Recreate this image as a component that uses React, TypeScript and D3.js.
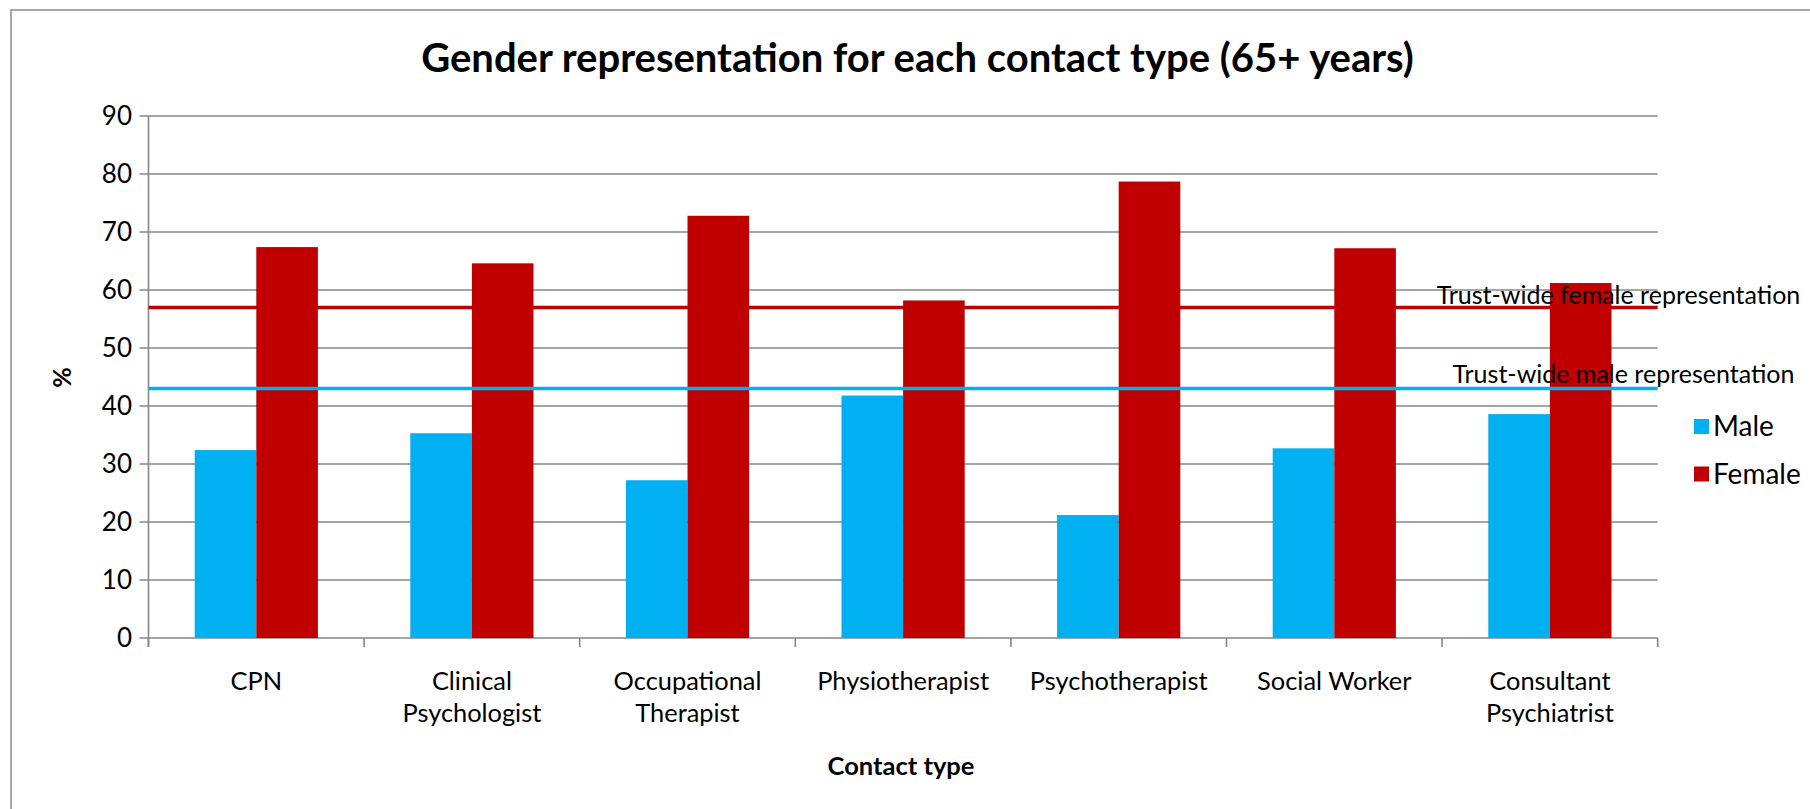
import React from "react";
import * as d3 from "d3";

const categories = [
  "CPN",
  "Clinical\nPsychologist",
  "Occupational\nTherapist",
  "Physiotherapist",
  "Psychotherapist",
  "Social Worker",
  "Consultant\nPsychiatrist",
];
const series = ["Male", "Female"];
const maleValues = [32.4, 35.3, 27.2, 41.8, 21.2, 32.7, 38.6];
const femaleValues = [67.4, 64.6, 72.8, 58.2, 78.7, 67.2, 61.2];
const yTicks = [0, 10, 20, 30, 40, 50, 60, 70, 80, 90];
const trustFemale = 57.0;
const trustMale = 43.0;
const title = "Gender representation for each contact type (65+ years)";
const xTitle = "Contact type";
const yTitle = "%";
const femaleLineLabel = "Trust-wide female representation";
const maleLineLabel = "Trust-wide male representation";

const colors: Record<string, string> = { Male: "#00B0F0", Female: "#C00000" };
const FONT = "Lato, 'Open Sans', sans-serif";

export default function App() {
  const W = 1810;
  const H = 809;
  const left = 148.5;
  const right = 1657.7;
  const top = 116;
  const bottom = 638;

  const x = d3
    .scaleBand<string>()
    .domain(categories)
    .range([left, right])
    .paddingInner(1.5 / 3.5)
    .paddingOuter(0.75 / 3.5);
  const xs = d3.scaleBand<string>().domain(series).range([0, x.bandwidth()]);
  const y = d3.scaleLinear().domain([0, 90]).range([bottom, top]);

  const step = x.step();
  const boundaries = d3.range(categories.length + 1).map((i) => left + i * step);

  const rows = categories.map((c, i) => ({
    c,
    Male: maleValues[i],
    Female: femaleValues[i],
  }));

  const grid = "#878787";

  return (
    <svg
      width={W}
      height={H}
      style={{ position: "absolute", left: 0, top: 0, background: "#fff" }}
      fontFamily={FONT}
    >
      <rect x={0} y={0} width={W} height={H} fill="#fff" />
      <rect x={11} y={10} width={1840} height={840} fill="none" stroke="#8a8a8a" strokeWidth={1.5} />

      {/* title */}
      <text x={917.5} y={72} textAnchor="middle" fontWeight="bold" fontSize={40} fill="#000">
        {title}
      </text>

      {/* gridlines */}
      {yTicks.map((t) => (
        <line key={t} x1={left - 9} x2={right} y1={y(t)} y2={y(t)} stroke={grid} strokeWidth={1.6} />
      ))}
      {/* y axis */}
      <line x1={left} x2={left} y1={top} y2={bottom + 9} stroke={grid} strokeWidth={1.6} />
      {/* x ticks */}
      {boundaries.map((b, i) => (
        <line key={i} x1={b} x2={b} y1={bottom} y2={bottom + 9} stroke={grid} strokeWidth={1.6} />
      ))}
      {yTicks.map((t) => (
        <text key={t} x={132} y={y(t)} dy="0.35em" textAnchor="end" fontSize={26} fill="#000">
          {t}
        </text>
      ))}

      {/* bars */}
      {rows.map((r) =>
        series.map((s) => (
          <rect
            key={r.c + s}
            x={(x(r.c) as number) + (xs(s) as number)}
            y={y((r as any)[s])}
            width={xs.bandwidth()}
            height={bottom - y((r as any)[s])}
            fill={colors[s]}
          />
        ))
      )}

      {/* trust-wide lines */}
      <line x1={left} x2={right} y1={y(trustFemale)} y2={y(trustFemale)} stroke="#C00000" strokeWidth={3.5} />
      <line x1={left} x2={right} y1={y(trustMale)} y2={y(trustMale)} stroke="#00B0F0" strokeWidth={3.5} />
      <text x={1618.5} y={y(trustFemale) - 3} textAnchor="middle" fontSize={25} fill="#000">
        {femaleLineLabel}
      </text>
      <text x={1623.5} y={y(trustMale) - 6} textAnchor="middle" fontSize={25} fill="#000">
        {maleLineLabel}
      </text>

      {/* category labels */}
      {categories.map((c) => {
        const cx = (x(c) as number) + x.bandwidth() / 2;
        return c.split("\n").map((line, li) => (
          <text key={c + li} x={cx} y={690 + li * 32} textAnchor="middle" fontSize={25.4} fill="#000">
            {line}
          </text>
        ));
      })}

      {/* axis titles */}
      <text x={901} y={775} textAnchor="middle" fontWeight="bold" fontSize={25.5} fill="#000">
        {xTitle}
      </text>
      <text
        transform={`translate(62.5,377.5) rotate(-90)`}
        textAnchor="middle"
        dy="0.35em"
        fontWeight="bold"
        fontSize={25}
        fill="#000"
      >
        {yTitle}
      </text>

      {/* legend */}
      {series.map((s, i) => (
        <g key={s} transform={`translate(1694, ${419 + i * 47.5})`}>
          <rect x={0} y={0} width={15} height={15} fill={colors[s]} />
          <text x={19} y={7.5} dy="0.35em" fontSize={28} fill="#000">
            {s}
          </text>
        </g>
      ))}
    </svg>
  );
}
